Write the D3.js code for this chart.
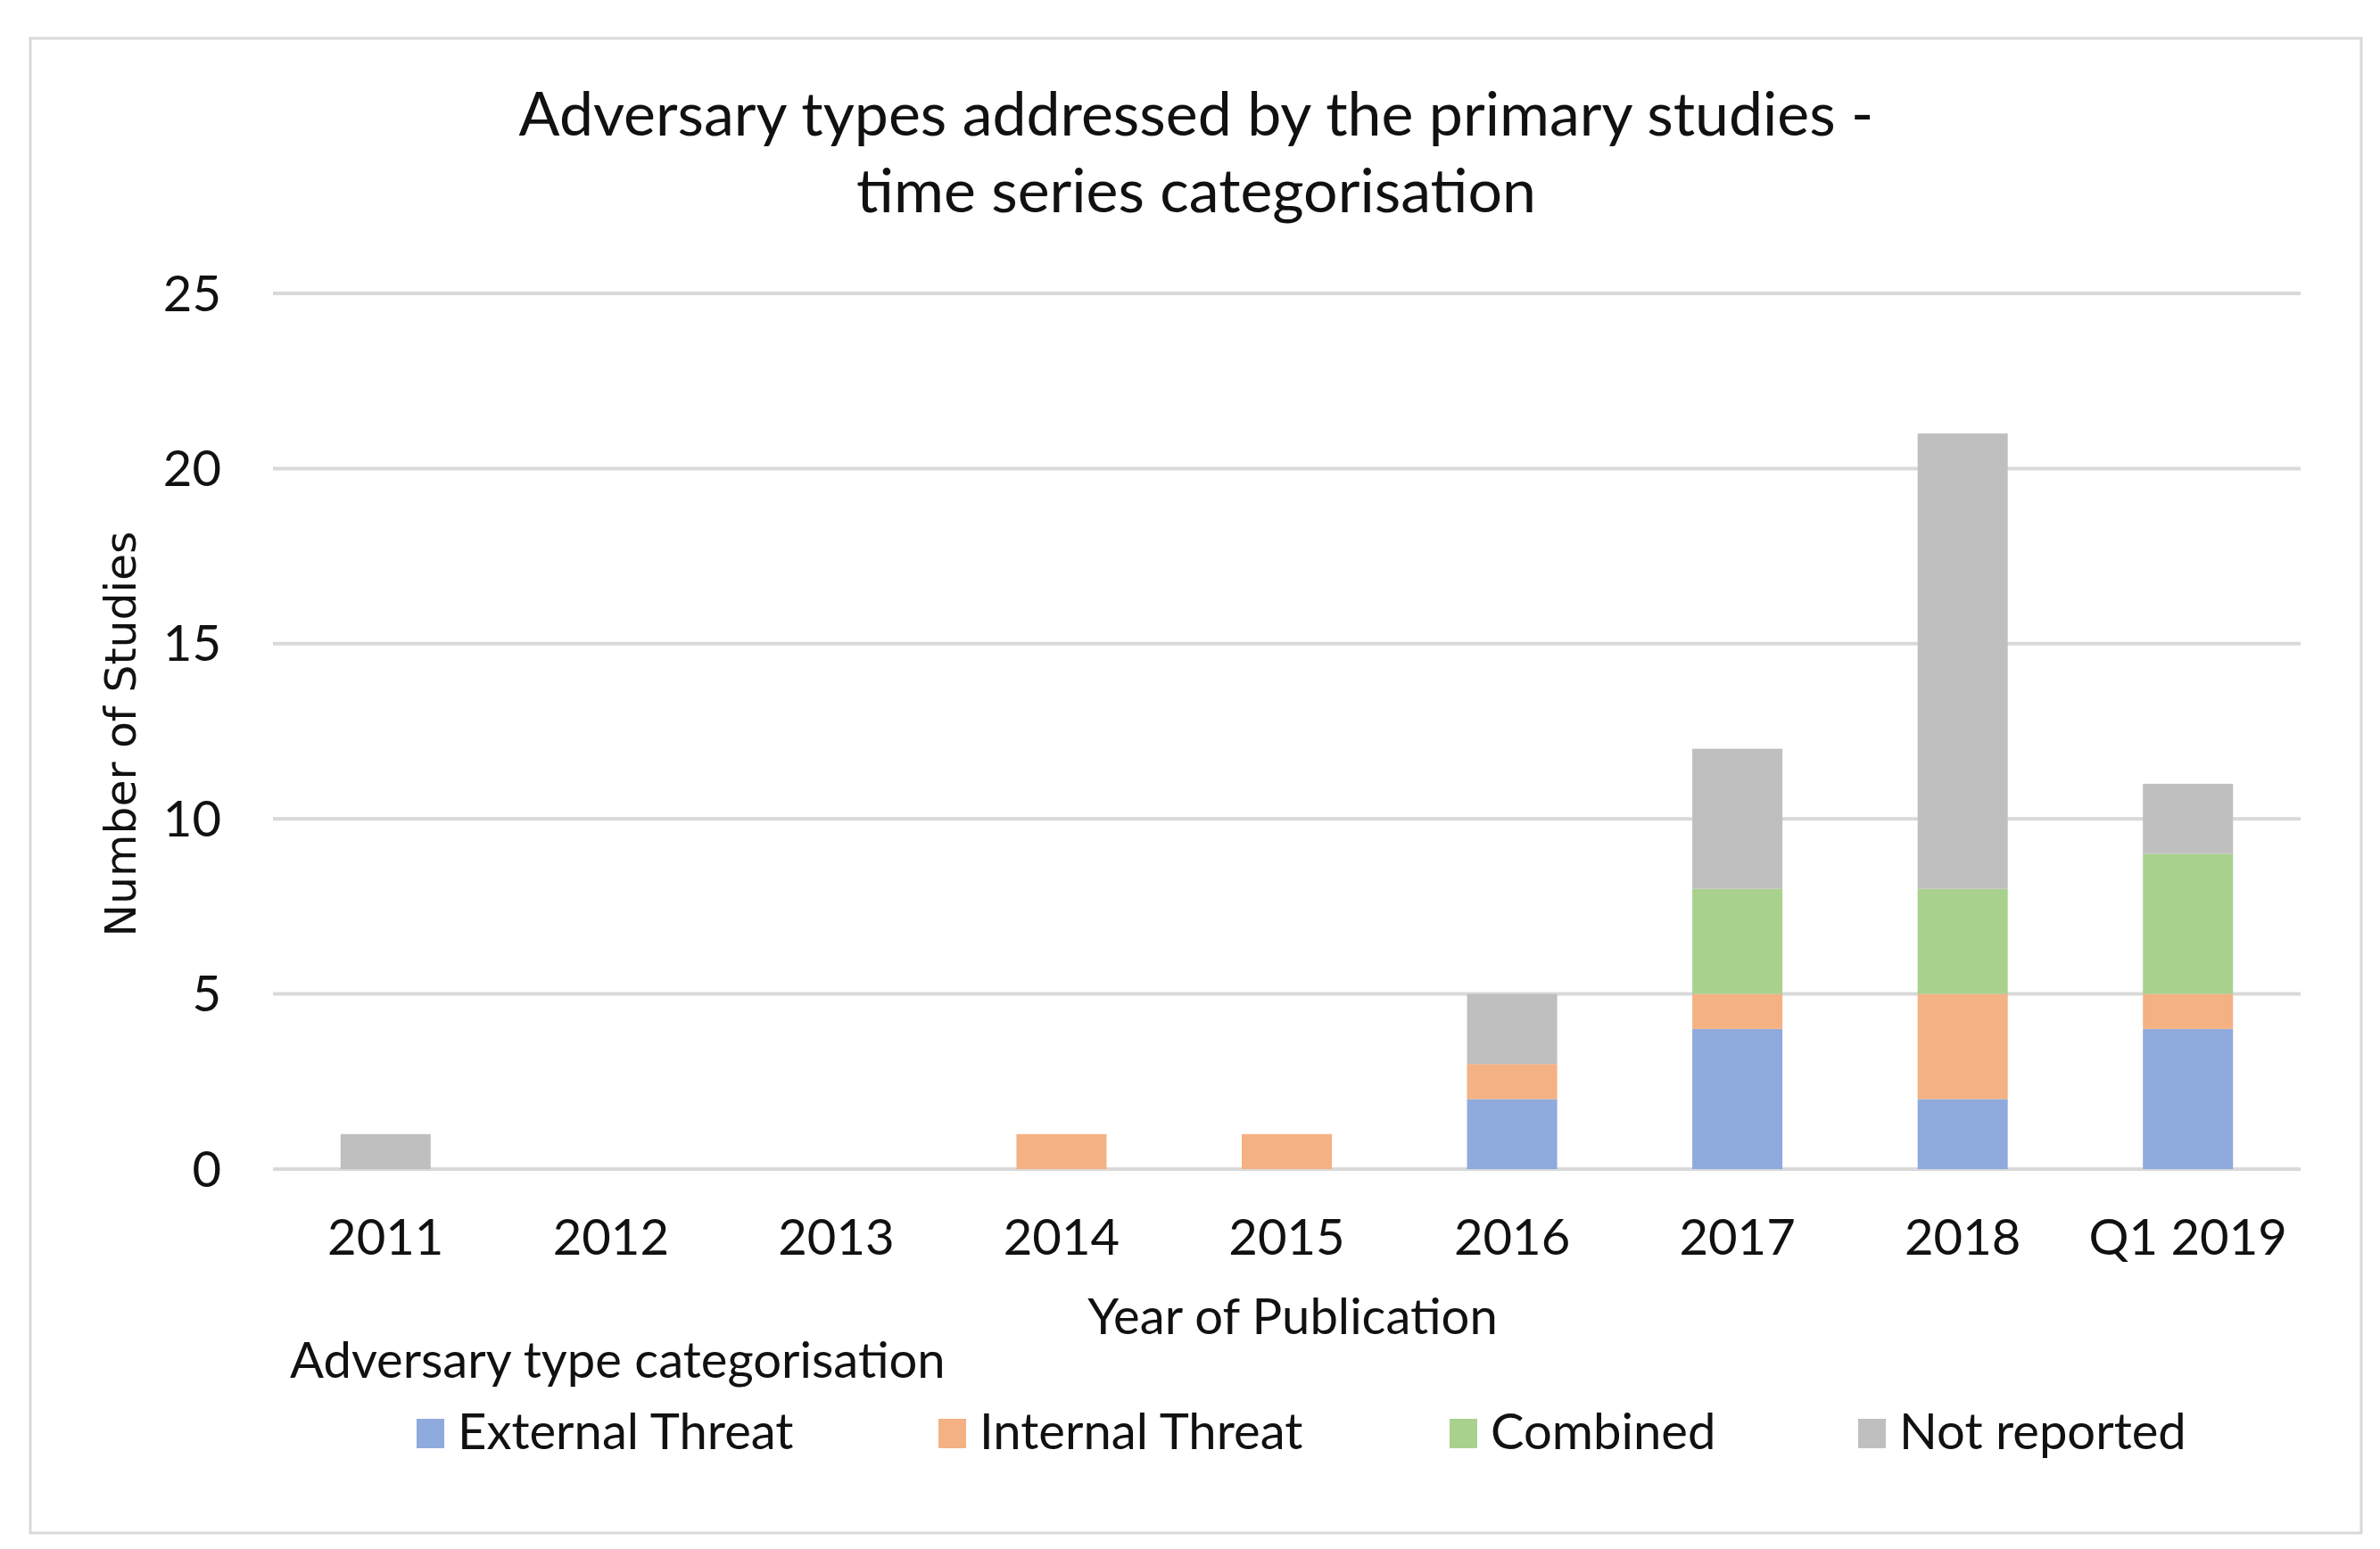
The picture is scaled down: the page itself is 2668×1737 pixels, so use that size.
<!DOCTYPE html>
<html><head><meta charset="utf-8">
<script src="https://cdn.jsdelivr.net/npm/d3@7"></script>
<style>html,body{margin:0;padding:0;background:#fff;}</style>
</head><body>
<svg id="chart" width="2668" height="1737"></svg>
<script>
const categories = ["2011","2012","2013","2014","2015","2016","2017","2018","Q1 2019"];
const seriesNames = ["External Threat","Internal Threat","Combined","Not reported"];
const externalThreat = [0,0,0,0,0,2,4,2,4];
const internalThreat = [0,0,0,1,1,1,1,3,1];
const combined       = [0,0,0,0,0,0,3,3,4];
const notReported    = [1,0,0,0,0,2,4,13,2];
const yTicks = [0,5,10,15,20,25];
const colors = ["#8FAADC","#F4B183","#A9D18E","#BFBFBF"];

const titleLines = ["Adversary types addressed by the primary studies -","time series categorisation"];
const xTitle = "Year of Publication";
const yTitle = "Number of Studies";
const legendTitle = "Adversary type categorisation";

(function(){
const svg = d3.select("#chart");
const FONT = "Lato, 'Open Sans', sans-serif";

svg.append("rect").attr("x",34).attr("y",43).attr("width",2613).attr("height",1676)
  .attr("fill","#fff").attr("stroke","#D9D9D9").attr("stroke-width",3);

const pL = 306, pR = 2579, pT = 329, pB = 1311;
const x = d3.scaleBand().domain(categories).range([pL,pR]).paddingInner(0.6).paddingOuter(0.3);
const y = d3.scaleLinear().domain([0,25]).range([pB,pT]);

svg.append("g").selectAll("line").data(yTicks).join("line")
  .attr("x1",pL).attr("x2",pR)
  .attr("y1",d=>y(d)).attr("y2",d=>y(d))
  .attr("stroke","#D9D9D9").attr("stroke-width",4);

const table = categories.map((c,i)=>({cat:c,
  "External Threat":externalThreat[i],"Internal Threat":internalThreat[i],
  "Combined":combined[i],"Not reported":notReported[i]}));
const stacked = d3.stack().keys(seriesNames)(table);

svg.append("g").selectAll("g").data(stacked).join("g")
  .attr("fill",(d,i)=>colors[i])
  .selectAll("rect").data(d=>d.filter(p=>p[1]-p[0]>0)).join("rect")
  .attr("x",d=>x(d.data.cat)).attr("width",x.bandwidth())
  .attr("y",d=>y(d[1])).attr("height",d=>y(d[0])-y(d[1]));

function fit(sel, target){
  const w = sel.node().getComputedTextLength();
  const fs = parseFloat(sel.attr("font-size"));
  sel.attr("font-size", fs*target/w);
  return fs*target/w;
}

const t1 = svg.append("text").attr("x",1341).attr("y",152).attr("text-anchor","middle")
  .attr("font-family",FONT).attr("font-size",60).attr("fill","#111").text(titleLines[0]);
const tfs = fit(t1,1519);
svg.append("text").attr("x",1341).attr("y",238).attr("text-anchor","middle")
  .attr("font-family",FONT).attr("font-size",tfs).attr("fill","#111").text(titleLines[1]);

const probe = svg.append("text").attr("font-family",FONT).attr("font-size",50).text(legendTitle);
const lfs = fit(probe,735);
probe.remove();

svg.append("g").selectAll("text").data(yTicks).join("text")
  .attr("x",248).attr("y",d=>y(d)).attr("dy","0.35em").attr("text-anchor","end")
  .attr("font-family",FONT).attr("font-size",lfs).attr("fill","#111").text(d=>d);

svg.append("g").selectAll("text").data(categories).join("text")
  .attr("x",d=>x(d)+x.bandwidth()/2).attr("y",1407).attr("text-anchor","middle")
  .attr("font-family",FONT).attr("font-size",lfs).attr("fill","#111").text(d=>d);

svg.append("text").attr("x",1449).attr("y",1496).attr("text-anchor","middle")
  .attr("font-family",FONT).attr("font-size",lfs).attr("fill","#111").text(xTitle);
const yt = svg.append("text").attr("transform","translate(152,823) rotate(-90)").attr("text-anchor","middle")
  .attr("font-family","'DejaVu Sans', Verdana, sans-serif").attr("font-size",40).attr("fill","#111").text(yTitle);
fit(yt,455);

svg.append("text").attr("x",325).attr("y",1545)
  .attr("font-family",FONT).attr("font-size",lfs).attr("fill","#111").text(legendTitle);
const legendX = [467,1052,1625,2083];
const lg = svg.append("g").selectAll("g").data(seriesNames).join("g")
  .attr("transform",(d,i)=>`translate(${legendX[i]},1625)`);
lg.append("rect").attr("x",0).attr("y",-34).attr("width",31).attr("height",33).attr("fill",(d,i)=>colors[i]);
lg.append("text").attr("x",46).attr("y",0)
  .attr("font-family",FONT).attr("font-size",lfs).attr("fill","#111").text(d=>d);
})();
</script>
</body></html>
